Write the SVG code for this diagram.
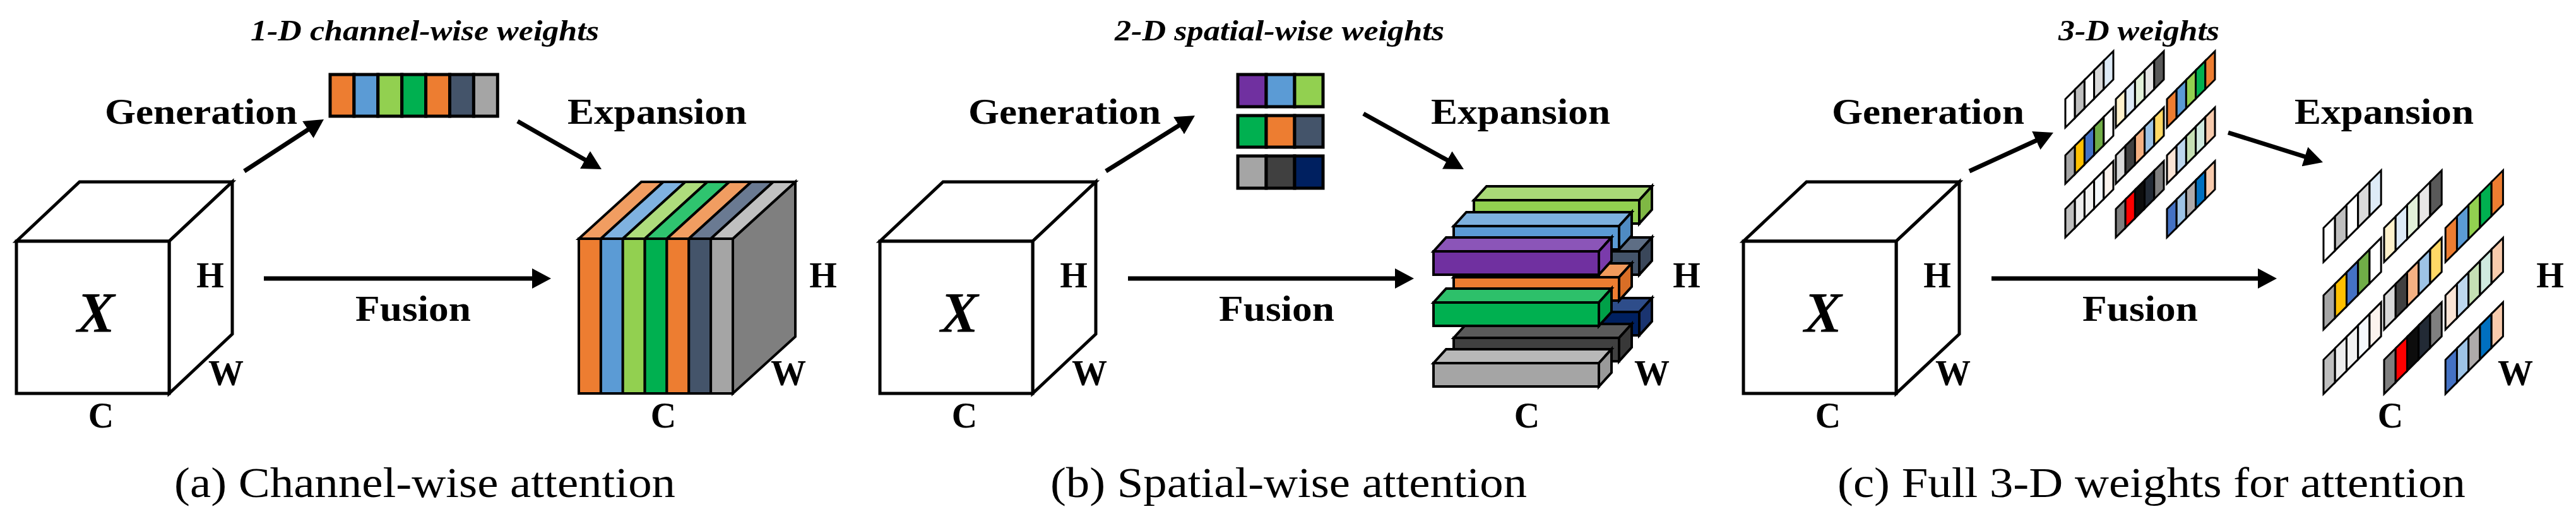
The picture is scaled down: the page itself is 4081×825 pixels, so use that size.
<svg xmlns="http://www.w3.org/2000/svg" xmlns:xlink="http://www.w3.org/1999/xlink" width="4081" height="825" viewBox="0 0 4081 825">
<style>
.cube path,.cube rect{fill:#fff;stroke:#000;stroke-width:5;stroke-linejoin:miter}
.ln{stroke:#000;stroke-width:4;stroke-linejoin:miter}
.cell{stroke:#000;stroke-width:5}
.sc{stroke:#000;stroke-width:3;vector-effect:non-scaling-stroke}
.arr{stroke:#000;stroke-width:7;fill:none;marker-end:url(#ah)}
.lbl{font-family:"Liberation Serif","Times New Roman",serif;font-weight:bold;font-size:58px;fill:#000}
.dim{font-family:"Liberation Serif","Times New Roman",serif;font-weight:bold;font-size:56px;fill:#000;text-anchor:middle}
.ttl{font-family:"Liberation Serif","Times New Roman",serif;font-weight:bold;font-style:italic;font-size:47px;fill:#000}
.cap{font-family:"Liberation Serif","Times New Roman",serif;font-size:68px;fill:#000}
.bx{font-family:"Liberation Serif","Times New Roman",serif;font-weight:bold;font-style:italic;font-size:90px;fill:#000;text-anchor:middle}
</style>
<defs>
<marker id="ah" markerUnits="userSpaceOnUse" viewBox="0 0 30 32" markerWidth="30" markerHeight="32" refX="20" refY="16" orient="auto">
<path d="M0,0 L30,16 L0,32 Z" fill="#000"/>
</marker>
<g id="w3d">
<g transform="translate(0,0) skewY(-45)"><rect class="sc" x="0" y="-45" width="15.2" height="45" fill="#FFFFFF"/><rect class="sc" x="15.2" y="-45" width="15.2" height="45" fill="#BFBFBF"/><rect class="sc" x="30.4" y="-45" width="15.2" height="45" fill="#FFFFFF"/><rect class="sc" x="45.6" y="-45" width="15.2" height="45" fill="#D9D9D9"/><rect class="sc" x="60.8" y="-45" width="15.2" height="45" fill="#DEEBF7"/></g>
<g transform="translate(80,0) skewY(-45)"><rect class="sc" x="0" y="-45" width="15.2" height="45" fill="#FFF2CC"/><rect class="sc" x="15.2" y="-45" width="15.2" height="45" fill="#DEEBF7"/><rect class="sc" x="30.4" y="-45" width="15.2" height="45" fill="#E2F0D9"/><rect class="sc" x="45.6" y="-45" width="15.2" height="45" fill="#E7E6E6"/><rect class="sc" x="60.8" y="-45" width="15.2" height="45" fill="#595959"/></g>
<g transform="translate(161,0) skewY(-45)"><rect class="sc" x="0" y="-45" width="15.2" height="45" fill="#ED7D31"/><rect class="sc" x="15.2" y="-45" width="15.2" height="45" fill="#5B9BD5"/><rect class="sc" x="30.4" y="-45" width="15.2" height="45" fill="#92D050"/><rect class="sc" x="45.6" y="-45" width="15.2" height="45" fill="#00B050"/><rect class="sc" x="60.8" y="-45" width="15.2" height="45" fill="#ED7D31"/></g>
<g transform="translate(0,89) skewY(-45)"><rect class="sc" x="0" y="-45" width="15.2" height="45" fill="#A6A6A6"/><rect class="sc" x="15.2" y="-45" width="15.2" height="45" fill="#FFC000"/><rect class="sc" x="30.4" y="-45" width="15.2" height="45" fill="#4472C4"/><rect class="sc" x="45.6" y="-45" width="15.2" height="45" fill="#70AD47"/><rect class="sc" x="60.8" y="-45" width="15.2" height="45" fill="#FFFFFF"/></g>
<g transform="translate(80,89) skewY(-45)"><rect class="sc" x="0" y="-45" width="15.2" height="45" fill="#D9D9D9"/><rect class="sc" x="15.2" y="-45" width="15.2" height="45" fill="#404040"/><rect class="sc" x="30.4" y="-45" width="15.2" height="45" fill="#F4B183"/><rect class="sc" x="45.6" y="-45" width="15.2" height="45" fill="#9DC3E6"/><rect class="sc" x="60.8" y="-45" width="15.2" height="45" fill="#FFD966"/></g>
<g transform="translate(161,89) skewY(-45)"><rect class="sc" x="0" y="-45" width="15.2" height="45" fill="#FBE5D6"/><rect class="sc" x="15.2" y="-45" width="15.2" height="45" fill="#BDD7EE"/><rect class="sc" x="30.4" y="-45" width="15.2" height="45" fill="#C5E0B4"/><rect class="sc" x="45.6" y="-45" width="15.2" height="45" fill="#D0EADF"/><rect class="sc" x="60.8" y="-45" width="15.2" height="45" fill="#F8CBAD"/></g>
<g transform="translate(0,174) skewY(-45)"><rect class="sc" x="0" y="-45" width="15.2" height="45" fill="#BFBFBF"/><rect class="sc" x="15.2" y="-45" width="15.2" height="45" fill="#EDEDED"/><rect class="sc" x="30.4" y="-45" width="15.2" height="45" fill="#F2F2F2"/><rect class="sc" x="45.6" y="-45" width="15.2" height="45" fill="#F5F9FD"/><rect class="sc" x="60.8" y="-45" width="15.2" height="45" fill="#FBF3EE"/></g>
<g transform="translate(80,174) skewY(-45)"><rect class="sc" x="0" y="-45" width="15.2" height="45" fill="#7F7F7F"/><rect class="sc" x="15.2" y="-45" width="15.2" height="45" fill="#FF0000"/><rect class="sc" x="30.4" y="-45" width="15.2" height="45" fill="#0D0D0D"/><rect class="sc" x="45.6" y="-45" width="15.2" height="45" fill="#222A35"/><rect class="sc" x="60.8" y="-45" width="15.2" height="45" fill="#7F7F7F"/></g>
<g transform="translate(161,174) skewY(-45)"><rect class="sc" x="0" y="-45" width="15.2" height="45" fill="#4472C4"/><rect class="sc" x="15.2" y="-45" width="15.2" height="45" fill="#9DC3E6"/><rect class="sc" x="30.4" y="-45" width="15.2" height="45" fill="#AEAAAA"/><rect class="sc" x="45.6" y="-45" width="15.2" height="45" fill="#0070C0"/><rect class="sc" x="60.8" y="-45" width="15.2" height="45" fill="#F8CBAD"/></g>
</g>
</defs>
<rect width="4081" height="825" fill="#fff"/>

<!-- Panel (a) -->
<g id="input-a" class="cube">
<path d="M26,382 L126,288 L368,288 L268,382 Z"/>
<path d="M268,382 L368,288 L368,529 L268,623 Z"/>
<rect x="26" y="382" width="242" height="241"/>
<text class="bx" x="152" y="526">X</text>
</g>
<g id="input-a-labels">
<text class="dim" x="333" y="455">H</text>
<text class="dim" x="358" y="610">W</text>
<text class="dim" x="160" y="677">C</text>
</g>
<g id="weights-1d">
<text class="ttl" x="397" y="64" textLength="552" lengthAdjust="spacingAndGlyphs">1-D channel-wise weights</text>
<rect class="cell" x="523" y="118" width="37.9" height="66" fill="#ED7D31"/>
<rect class="cell" x="560.9" y="118" width="37.9" height="66" fill="#5B9BD5"/>
<rect class="cell" x="598.8" y="118" width="37.9" height="66" fill="#92D050"/>
<rect class="cell" x="636.7" y="118" width="37.9" height="66" fill="#00B050"/>
<rect class="cell" x="674.6" y="118" width="37.9" height="66" fill="#ED7D31"/>
<rect class="cell" x="712.5" y="118" width="37.9" height="66" fill="#44546A"/>
<rect class="cell" x="750.4" y="118" width="37.9" height="66" fill="#A5A5A5"/>
</g>
<g id="output-a">
<path class="ln" d="M1161,378 L1260,288 L1260,533 L1161,623 Z" fill="#7F7F7F"/>
<path class="ln" d="M917,378 L951.9,378 L1050.9,288 L1016,288 Z" fill="#F19D61"/>
<path class="ln" d="M951.9,378 L986.7,378 L1085.7,288 L1050.9,288 Z" fill="#7FB2E0"/>
<path class="ln" d="M986.7,378 L1021.6,378 L1120.6,288 L1085.7,288 Z" fill="#AEDC7C"/>
<path class="ln" d="M1021.6,378 L1056.4,378 L1155.4,288 L1120.6,288 Z" fill="#2FC46F"/>
<path class="ln" d="M1056.4,378 L1091.3,378 L1190.3,288 L1155.4,288 Z" fill="#F19D61"/>
<path class="ln" d="M1091.3,378 L1126.1,378 L1225.1,288 L1190.3,288 Z" fill="#6A7A92"/>
<path class="ln" d="M1126.1,378 L1161,378 L1260,288 L1225.1,288 Z" fill="#C0C0C0"/>
<rect class="ln" x="917" y="378" width="34.9" height="245" fill="#ED7D31"/>
<rect class="ln" x="951.9" y="378" width="34.9" height="245" fill="#5B9BD5"/>
<rect class="ln" x="986.7" y="378" width="34.9" height="245" fill="#92D050"/>
<rect class="ln" x="1021.6" y="378" width="34.9" height="245" fill="#00B050"/>
<rect class="ln" x="1056.4" y="378" width="34.9" height="245" fill="#ED7D31"/>
<rect class="ln" x="1091.3" y="378" width="34.9" height="245" fill="#44546A"/>
<rect class="ln" x="1126.1" y="378" width="34.9" height="245" fill="#A5A5A5"/>
<text class="dim" x="1304" y="455">H</text>
<text class="dim" x="1249" y="610">W</text>
<text class="dim" x="1051" y="677">C</text>
</g>

<!-- Panel (b) -->
<g id="input-b" class="cube" transform="translate(1368,0)">
<path d="M26,382 L126,288 L368,288 L268,382 Z"/>
<path d="M268,382 L368,288 L368,529 L268,623 Z"/>
<rect x="26" y="382" width="242" height="241"/>
<text class="bx" x="152" y="526">X</text>
</g>
<g id="input-b-labels">
<text class="dim" x="1701" y="455">H</text>
<text class="dim" x="1726" y="610">W</text>
<text class="dim" x="1528" y="677">C</text>
</g>
<g id="weights-2d">
<text class="ttl" x="1766" y="64" textLength="522" lengthAdjust="spacingAndGlyphs">2-D spatial-wise weights</text>
<rect class="cell" x="1961" y="118" width="45" height="51" fill="#7030A0"/>
<rect class="cell" x="2006" y="118" width="45" height="51" fill="#5B9BD5"/>
<rect class="cell" x="2051" y="118" width="45" height="51" fill="#92D050"/>
<rect class="cell" x="1961" y="183" width="45" height="50" fill="#00B050"/>
<rect class="cell" x="2006" y="183" width="45" height="50" fill="#ED7D31"/>
<rect class="cell" x="2051" y="183" width="45" height="50" fill="#44546A"/>
<rect class="cell" x="1961" y="247" width="45" height="51" fill="#A5A5A5"/>
<rect class="cell" x="2006" y="247" width="45" height="51" fill="#404040"/>
<rect class="cell" x="2051" y="247" width="45" height="51" fill="#002060"/>
</g>
<g id="output-b">
<!-- back row -->
<g transform="translate(2335,317)"><path class="ln" d="M0,0 L20,-22 L282,-22 L262,0 Z" fill="#A9DA77"/><path class="ln" d="M262,0 L282,-22 L282,15 L262,37 Z" fill="#7FB844"/><rect class="ln" x="0" y="0" width="262" height="37" fill="#92D050"/></g>
<g transform="translate(2335,398)"><path class="ln" d="M0,0 L20,-22 L282,-22 L262,0 Z" fill="#5E6E85"/><path class="ln" d="M262,0 L282,-22 L282,15 L262,37 Z" fill="#3A475A"/><rect class="ln" x="0" y="0" width="262" height="37" fill="#44546A"/></g>
<g transform="translate(2335,494)"><path class="ln" d="M0,0 L20,-22 L282,-22 L262,0 Z" fill="#2E4D8A"/><path class="ln" d="M262,0 L282,-22 L282,15 L262,37 Z" fill="#1A3470"/><rect class="ln" x="0" y="0" width="262" height="37" fill="#002060"/></g>
<!-- middle row -->
<g transform="translate(2303,358)"><path class="ln" d="M0,0 L20,-22 L282,-22 L262,0 Z" fill="#7DB0DE"/><path class="ln" d="M262,0 L282,-22 L282,15 L262,37 Z" fill="#4F8BC3"/><rect class="ln" x="0" y="0" width="262" height="37" fill="#5B9BD5"/></g>
<g transform="translate(2303,439)"><path class="ln" d="M0,0 L20,-22 L282,-22 L262,0 Z" fill="#F29A5C"/><path class="ln" d="M262,0 L282,-22 L282,15 L262,37 Z" fill="#D96E26"/><rect class="ln" x="0" y="0" width="262" height="37" fill="#ED7D31"/></g>
<g transform="translate(2303,535)"><path class="ln" d="M0,0 L20,-22 L282,-22 L262,0 Z" fill="#5A5A5A"/><path class="ln" d="M262,0 L282,-22 L282,15 L262,37 Z" fill="#383838"/><rect class="ln" x="0" y="0" width="262" height="37" fill="#404040"/></g>
<!-- front row -->
<g transform="translate(2271,398)"><path class="ln" d="M0,0 L20,-22 L282,-22 L262,0 Z" fill="#8B55B8"/><path class="ln" d="M262,0 L282,-22 L282,15 L262,37 Z" fill="#7A3BAB"/><rect class="ln" x="0" y="0" width="262" height="37" fill="#7030A0"/></g>
<g transform="translate(2271,479)"><path class="ln" d="M0,0 L20,-22 L282,-22 L262,0 Z" fill="#2DC06A"/><path class="ln" d="M262,0 L282,-22 L282,15 L262,37 Z" fill="#00A048"/><rect class="ln" x="0" y="0" width="262" height="37" fill="#00B050"/></g>
<g transform="translate(2271,575)"><path class="ln" d="M0,0 L20,-22 L282,-22 L262,0 Z" fill="#B8B8B8"/><path class="ln" d="M262,0 L282,-22 L282,15 L262,37 Z" fill="#999999"/><rect class="ln" x="0" y="0" width="262" height="37" fill="#A5A5A5"/></g>
<text class="dim" x="2672" y="455">H</text>
<text class="dim" x="2617" y="610">W</text>
<text class="dim" x="2419" y="677">C</text>
</g>

<!-- Panel (c) -->
<g id="input-c" class="cube" transform="translate(2736,0)">
<path d="M26,382 L126,288 L368,288 L268,382 Z"/>
<path d="M268,382 L368,288 L368,529 L268,623 Z"/>
<rect x="26" y="382" width="242" height="241"/>
<text class="bx" x="152" y="526">X</text>
</g>
<g id="input-c-labels">
<text class="dim" x="3069" y="455">H</text>
<text class="dim" x="3094" y="610">W</text>
<text class="dim" x="2896" y="677">C</text>
</g>
<g id="weights-3d">
<text class="ttl" x="3261" y="64" textLength="255" lengthAdjust="spacingAndGlyphs">3-D weights</text>
<use xlink:href="#w3d" href="#w3d" transform="translate(3272,202)"/>
</g>
<g id="output-c">
<use xlink:href="#w3d" href="#w3d" transform="translate(3681,415) scale(1.2)"/>
<text class="dim" x="4040" y="455">H</text>
<text class="dim" x="3985" y="610">W</text>
<text class="dim" x="3787" y="677">C</text>
</g>

<!-- connectors -->
<g id="connectors">
<line class="arr" x1="387" y1="271" x2="504.6" y2="194.5"/>
<line class="arr" x1="820" y1="192" x2="944.3" y2="263"/>
<line class="arr" x1="418" y1="441" x2="863" y2="441"/>
<line class="arr" x1="1752" y1="271" x2="1884.5" y2="188.3"/>
<line class="arr" x1="2160" y1="180" x2="2310.2" y2="263.2"/>
<line class="arr" x1="1787" y1="441" x2="2230" y2="441"/>
<line class="arr" x1="3120" y1="271" x2="3243.9" y2="214.2"/>
<line class="arr" x1="3530" y1="210" x2="3670.5" y2="254"/>
<line class="arr" x1="3155" y1="441" x2="3597" y2="441"/>
</g>
<g id="connector-labels">
<text class="lbl" x="166" y="196" textLength="305" lengthAdjust="spacingAndGlyphs">Generation</text>
<text class="lbl" x="899" y="196" textLength="284" lengthAdjust="spacingAndGlyphs">Expansion</text>
<text class="lbl" x="563" y="508" textLength="183" lengthAdjust="spacingAndGlyphs">Fusion</text>
<text class="lbl" x="1534" y="196" textLength="305" lengthAdjust="spacingAndGlyphs">Generation</text>
<text class="lbl" x="2267" y="196" textLength="284" lengthAdjust="spacingAndGlyphs">Expansion</text>
<text class="lbl" x="1931" y="508" textLength="183" lengthAdjust="spacingAndGlyphs">Fusion</text>
<text class="lbl" x="2902" y="196" textLength="305" lengthAdjust="spacingAndGlyphs">Generation</text>
<text class="lbl" x="3635" y="196" textLength="284" lengthAdjust="spacingAndGlyphs">Expansion</text>
<text class="lbl" x="3299" y="508" textLength="183" lengthAdjust="spacingAndGlyphs">Fusion</text>
</g>
<g id="captions">
<text class="cap" x="276" y="787" textLength="794" lengthAdjust="spacingAndGlyphs">(a) Channel-wise attention</text>
<text class="cap" x="1664" y="787" textLength="755" lengthAdjust="spacingAndGlyphs">(b) Spatial-wise attention</text>
<text class="cap" x="2911" y="787" textLength="995" lengthAdjust="spacingAndGlyphs">(c) Full 3-D weights for attention</text>
</g>
</svg>
